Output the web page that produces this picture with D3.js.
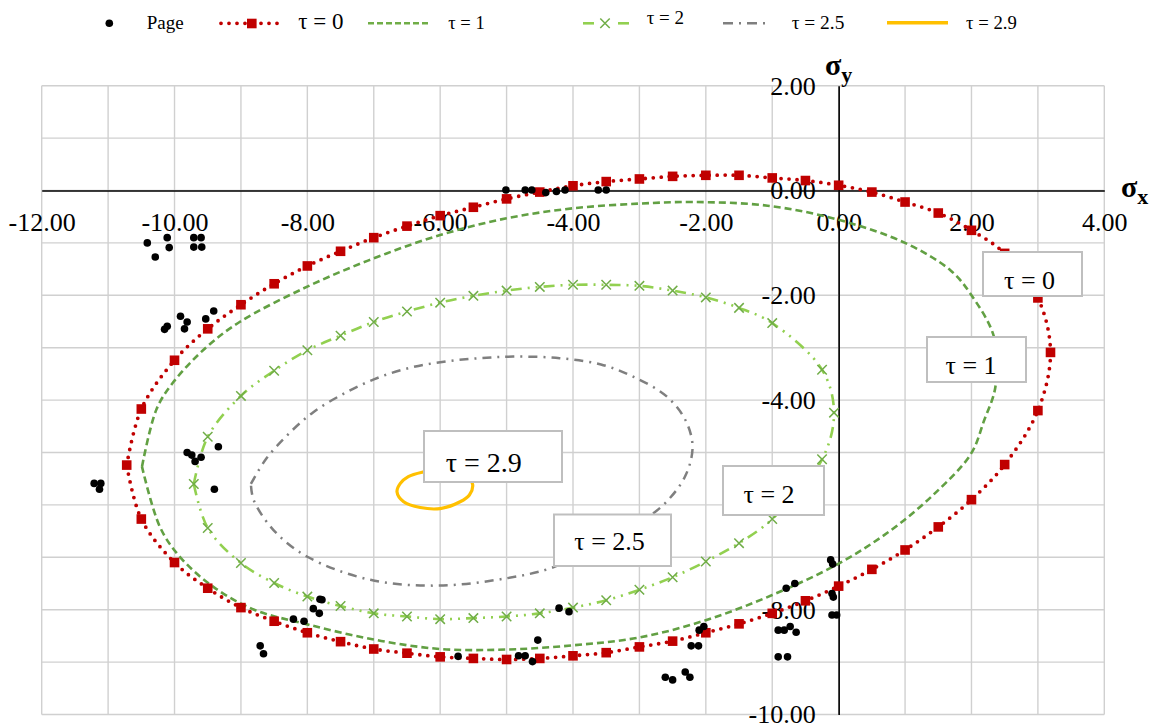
<!DOCTYPE html>
<html>
<head>
<meta charset="utf-8">
<script src="https://cdn.jsdelivr.net/npm/d3@7/dist/d3.min.js"></script>
<style>
  body { margin: 0; background: #fff; }
  svg { display: block; }
  svg text { font-family: "Liberation Serif", "Times New Roman", serif; }
</style>
</head>
<body>
<script>
// measured points, [sigma_x, sigma_y]
var tau0 = [[-10.72,-5.24],[-10.5,-4.17],[-10,-3.24],[-9.5,-2.64],[-9,-2.18],[-8.5,-1.78],[-8,-1.44],
  [-7.5,-1.16],[-7,-0.90],[-6.5,-0.68],[-6,-0.48],[-5.5,-0.32],[-5,-0.16],[-4.5,-0.03],[-4,0.09],
  [-3.5,0.17],[-3,0.22],[-2.5,0.27],[-2,0.29],[-1.5,0.29],[-1,0.24],[-0.5,0.19],[0,0.10],[0.5,-0.03],
  [1,-0.22],[1.5,-0.43],[2,-0.76],[2.5,-1.20],[3,-2.05],[3.19,-3.09],[3,-4.20],[2.5,-5.23],[2,-5.90],
  [1.5,-6.42],[1,-6.86],[0.5,-7.23],[0,-7.55],[-0.5,-7.83],[-1,-8.07],[-1.5,-8.27],[-2,-8.44],
  [-2.5,-8.60],[-3,-8.71],[-3.5,-8.82],[-4,-8.88],[-4.5,-8.93],[-5,-8.95],[-5.5,-8.93],[-6,-8.90],
  [-6.5,-8.83],[-7,-8.75],[-7.5,-8.61],[-8,-8.44],[-8.5,-8.22],[-9,-7.96],[-9.5,-7.59],[-10,-7.10],
  [-10.5,-6.27],[-10.72,-5.24]];

var tau1 = [[-10.49,-5.27],[-10.27,-4.17],[-10.02,-3.66],[-9.52,-2.99],[-9.02,-2.51],[-8.01,-1.84],
  [-7.01,-1.30],[-6,-0.85],[-5,-0.53],[-4,-0.34],[-3,-0.25],[-2.2,-0.22],[-1.07,-0.29],[0,-0.56],
  [1,-1.0],[1.69,-1.53],[2,-2.0],[2.34,-2.8],[2.36,-3.75],[2.19,-4.39],[1.99,-5.03],[1.44,-5.79],
  [0.78,-6.49],[0,-7.12],[-1,-7.72],[-2,-8.2],[-3,-8.53],[-4,-8.68],[-5,-8.76],[-6,-8.75],[-7,-8.57],
  [-8,-8.28],[-8.8,-8.0],[-9.42,-7.56],[-9.92,-6.99],[-10.22,-6.42],[-10.49,-5.27]];

var tau2 = [[-9.71,-5.6],[-9.5,-4.70],[-9,-3.92],[-8.5,-3.44],[-8,-3.05],[-7.5,-2.77],[-7,-2.51],
  [-6.5,-2.31],[-6,-2.14],[-5.5,-2.01],[-5,-1.91],[-4.5,-1.84],[-4,-1.80],[-3.5,-1.80],[-3,-1.82],
  [-2.5,-1.91],[-2,-2.04],[-1.5,-2.24],[-1,-2.53],[-0.25,-3.42],[-0.07,-4.24],[-0.25,-5.13],
  [-1,-6.27],[-1.5,-6.73],[-2,-7.08],[-2.5,-7.38],[-3,-7.62],[-3.5,-7.82],[-4,-7.96],[-4.5,-8.07],
  [-5,-8.13],[-5.5,-8.16],[-6,-8.18],[-6.5,-8.13],[-7,-8.07],[-7.5,-7.93],[-8,-7.75],[-8.5,-7.49],
  [-9,-7.11],[-9.5,-6.44],[-9.71,-5.6]];

var tau25 = [[-8.85,-5.6],[-8.62,-5.12],[-8.31,-4.68],[-7.91,-4.23],[-7.41,-3.85],[-6.91,-3.56],
  [-6.41,-3.37],[-5.9,-3.26],[-5.4,-3.2],[-4.9,-3.17],[-4.2,-3.2],[-3.58,-3.32],[-3.08,-3.56],
  [-2.58,-3.94],[-2.3,-4.4],[-2.2,-4.9],[-2.31,-5.45],[-2.6,-5.95],[-3.0,-6.35],[-3.6,-6.8],
  [-4.34,-7.21],[-5.0,-7.4],[-6.03,-7.54],[-7.05,-7.43],[-8.0,-6.99],[-8.51,-6.48],[-8.81,-5.9],
  [-8.85,-5.6]];

var tau29 = [[-5.6,-5.4],[-5.9,-5.3],[-6.25,-5.37],[-6.48,-5.46],[-6.6,-5.59],[-6.65,-5.75],
  [-6.55,-5.94],[-6.3,-6.05],[-6,-6.07],[-5.7,-5.94],[-5.56,-5.81],[-5.51,-5.62],[-5.6,-5.4]];

var pagePts = [[-10.41,-1.00],[-10.11,-0.90],[-10.08,-1.09],[-10.29,-1.27],[-9.71,-0.90],[-9.60,-0.90],
  [-9.71,-1.08],[-9.59,-1.08],[-10.15,-2.65],[-10.11,-2.59],[-9.91,-2.40],[-9.81,-2.51],[-9.85,-2.64],
  [-9.53,-2.45],[-9.41,-2.30],[-5.01,0.01],[-4.72,0.01],[-4.62,0.01],[-4.41,-0.04],[-4.25,-0.02],
  [-4.12,0.01],[-3.62,0.01],[-3.50,0.01],[-11.21,-5.59],[-11.11,-5.59],[-11.13,-5.70],[-9.81,-5.00],
  [-9.74,-5.05],[-9.69,-5.17],[-9.60,-5.09],[-9.34,-4.89],[-9.40,-5.70],[-8.21,-8.18],[-8.05,-8.22],
  [-7.81,-7.80],[-7.78,-7.81],[-7.91,-7.98],[-7.82,-8.07],[-8.71,-8.69],[-8.66,-8.84],[-5.73,-8.89],
  [-4.82,-8.88],[-4.72,-8.88],[-4.61,-8.99],[-4.53,-8.58],[-4.21,-7.97],[-4.06,-8.04],[-2.61,-9.29],
  [-2.50,-9.34],[-2.31,-9.19],[-2.24,-9.29],[-2.22,-8.69],[-2.11,-8.69],[-2.10,-8.39],[-2.03,-8.32],
  [-0.91,-8.39],[-0.82,-8.39],[-0.73,-8.32],[-0.64,-8.43],[-0.91,-8.90],[-0.77,-8.90],[-0.79,-7.59],
  [-0.66,-7.50],[-0.12,-7.05],[-0.09,-7.13],[-0.10,-7.69],[-0.08,-7.76],[-0.10,-8.10],[-0.03,-8.10]];

var xTicks = [-12, -10, -8, -6, -4, -2, 0, 2, 4];
var yTicks = [-10, -8, -6, -4, -2, 0, 2];
var legendLabels = ["Page", "τ = 0", "τ = 1", "τ = 2", "τ = 2.5", "τ = 2.9"];
var boxLabels = ["τ = 0", "τ = 1", "τ = 2", "τ = 2.5", "τ = 2.9"];

var width = 1157, height = 725;
var svg = d3.select("body").append("svg").attr("width", width).attr("height", height);

var x = d3.scaleLinear().domain([-12, 4]).range([41.7, 1104.3]);
var y = d3.scaleLinear().domain([-10, 2]).range([714.5, 85.7]);
var fmt = function(d) { return d.toFixed(2); };

// grid
var grid = svg.append("g").attr("stroke", "#d0d0d0").attr("stroke-width", 1.4);
grid.selectAll(".vg").data(d3.range(-12, 5)).enter().append("line")
  .attr("x1", d => x(d)).attr("x2", d => x(d)).attr("y1", y(2)).attr("y2", y(-10));
grid.selectAll(".hg").data(d3.range(-10, 3)).enter().append("line")
  .attr("y1", d => y(d)).attr("y2", d => y(d)).attr("x1", x(-12)).attr("x2", x(4));

// axes through origin
var xAxis = svg.append("g").attr("transform", "translate(0," + y(0) + ")")
  .call(d3.axisBottom(x).tickValues(xTicks).tickFormat(fmt).tickSize(0).tickPadding(22));
var yAxis = svg.append("g").attr("transform", "translate(" + x(0) + ",0)")
  .call(d3.axisLeft(y).tickValues(yTicks).tickFormat(fmt).tickSize(0).tickPadding(23));
[xAxis, yAxis].forEach(function(a) {
  a.attr("font-size", 26);
  a.select(".domain").attr("stroke", "#000").attr("stroke-width", 1.6);
  a.selectAll("text").attr("fill", "#000");
});

// axis titles
var tx = svg.append("text").attr("x", 1121).attr("y", 197).attr("font-weight", "bold").attr("font-size", 30);
tx.append("tspan").text("σ");
tx.append("tspan").attr("font-size", 22).attr("dy", 7).text("x");
var ty = svg.append("text").attr("x", 825).attr("y", 75).attr("font-weight", "bold").attr("font-size", 30);
ty.append("tspan").text("σ");
ty.append("tspan").attr("font-size", 22).attr("dy", 7).text("y");

var line = d3.line().x(d => x(d[0])).y(d => y(d[1])).curve(d3.curveCatmullRom.alpha(0.5));

// tau = 2.9
svg.append("path").datum(tau29).attr("d", line).attr("fill", "none")
  .attr("stroke", "#ffc000").attr("stroke-width", 3.2);
// tau = 2.5
svg.append("path").datum(tau25).attr("d", line).attr("fill", "none")
  .attr("stroke", "#7f7f7f").attr("stroke-width", 2.5).attr("stroke-dasharray", "9 6 2 6");
// tau = 2
svg.append("path").datum(tau2).attr("d", line).attr("fill", "none")
  .attr("stroke", "#92d050").attr("stroke-width", 2.6).attr("stroke-dasharray", "11 6 2 6 2 6");
var cross = d3.symbol().type(d3.symbolX).size(60);
svg.selectAll(".xm").data(tau2.slice(0, -1)).enter().append("path")
  .attr("d", cross).attr("transform", d => "translate(" + x(d[0]) + "," + y(d[1]) + ")")
  .attr("fill", "none").attr("stroke", "#70ad47").attr("stroke-width", 1.5);
// tau = 1
svg.append("path").datum(tau1).attr("d", line).attr("fill", "none")
  .attr("stroke", "#62a043").attr("stroke-width", 2.6).attr("stroke-dasharray", "7 4");
// tau = 0
svg.append("path").datum(tau0).attr("d", line).attr("fill", "none")
  .attr("stroke", "#c00000").attr("stroke-width", 3.8).attr("stroke-dasharray", "0 8")
  .attr("stroke-linecap", "round");
svg.selectAll(".sq").data(tau0.slice(0, -1)).enter().append("rect")
  .attr("x", d => x(d[0]) - 4.8).attr("y", d => y(d[1]) - 4.8)
  .attr("width", 9.6).attr("height", 9.6).attr("fill", "#c00000");

// page points
svg.selectAll(".pg").data(pagePts).enter().append("circle")
  .attr("cx", d => x(d[0])).attr("cy", d => y(d[1])).attr("r", 3.8).attr("fill", "#000");

// label boxes
var boxes = [
  {x: 983, y: 252, w: 99, h: 44, tx: 1029.5, ty: 289, fs: 26},
  {x: 927, y: 337, w: 99, h: 45, tx: 971, ty: 374, fs: 26},
  {x: 723, y: 466, w: 101, h: 49, tx: 769, ty: 503, fs: 26},
  {x: 554, y: 514.5, w: 117, h: 51.5, tx: 609.5, ty: 550, fs: 26},
  {x: 424, y: 431, w: 138, h: 51, tx: 483.7, ty: 471.7, fs: 28}
];
boxes.forEach(function(b, i) {
  svg.append("rect").attr("x", b.x).attr("y", b.y).attr("width", b.w).attr("height", b.h)
    .attr("fill", "#fff").attr("stroke", "#bfbfbf").attr("stroke-width", 2);
  svg.append("text").attr("x", b.tx).attr("y", b.ty).attr("text-anchor", "middle")
    .attr("font-size", b.fs).text(boxLabels[i]);
});

// legend
var lg = svg.append("g");
lg.append("circle").attr("cx", 109.3).attr("cy", 23.3).attr("r", 3.8).attr("fill", "#000");
lg.append("line").attr("x1", 221).attr("x2", 279).attr("y1", 23.3).attr("y2", 23.3)
  .attr("stroke", "#c00000").attr("stroke-width", 3.8).attr("stroke-dasharray", "0 8").attr("stroke-linecap", "round");
lg.append("rect").attr("x", 247).attr("y", 18.7).attr("width", 9.6).attr("height", 9.6).attr("fill", "#c00000");
lg.append("line").attr("x1", 368).attr("x2", 430).attr("y1", 23.3).attr("y2", 23.3)
  .attr("stroke", "#70ad47").attr("stroke-width", 2.6).attr("stroke-dasharray", "6 3");
lg.append("line").attr("x1", 583).attr("x2", 594).attr("y1", 23.3).attr("y2", 23.3)
  .attr("stroke", "#92d050").attr("stroke-width", 2.6);
lg.append("line").attr("x1", 618).attr("x2", 629).attr("y1", 23.3).attr("y2", 23.3)
  .attr("stroke", "#92d050").attr("stroke-width", 2.6);
lg.append("path").attr("d", cross).attr("transform", "translate(605,23.3)")
  .attr("fill", "none").attr("stroke", "#70ad47").attr("stroke-width", 1.5);
lg.append("line").attr("x1", 723).attr("x2", 767).attr("y1", 23.3).attr("y2", 23.3)
  .attr("stroke", "#7f7f7f").attr("stroke-width", 2.6).attr("stroke-dasharray", "10 6 2 6");
lg.append("line").attr("x1", 887).attr("x2", 948).attr("y1", 22.7).attr("y2", 22.7)
  .attr("stroke", "#ffc000").attr("stroke-width", 3.4);
var lgText = [
  {x: 146.7, y: 29.3, fs: 19}, {x: 298.3, y: 29.3, fs: 23}, {x: 448.3, y: 29.3, fs: 18.5},
  {x: 646.7, y: 24, fs: 19}, {x: 791.7, y: 29.3, fs: 19.4}, {x: 966, y: 29.3, fs: 18.7}
];
lgText.forEach(function(t, i) {
  lg.append("text").attr("x", t.x).attr("y", t.y).attr("font-size", t.fs).text(legendLabels[i]);
});
</script>
</body>
</html>
